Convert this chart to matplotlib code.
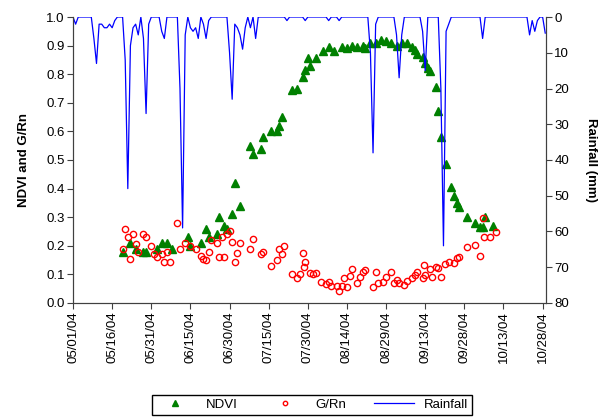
import numpy as np
import matplotlib.pyplot as plt

plt.rcParams["font.family"] = ["Liberation Sans", "DejaVu Sans"]
plt.rcParams["font.size"] = 9.5

# Days counted from 05/01/04
tick_days = [0, 15, 30, 45, 60, 75, 90, 105, 120, 135, 150, 165, 180]
tick_labels = ["05/01/04", "05/16/04", "05/31/04", "06/15/04", "06/30/04",
               "07/15/04", "07/30/04", "08/14/04", "08/29/04", "09/13/04",
               "09/28/04", "10/13/04", "10/28/04"]

ndvi_day = [19, 22, 24, 27, 28, 32, 34, 36, 38, 44, 45, 49, 51, 52, 55, 56,
            58, 59, 61, 62, 64, 68, 69, 72, 73, 76, 78, 79, 80, 84, 86, 88,
            89, 90, 91, 93, 96, 98, 100, 103, 105, 107, 109, 111, 112, 114,
            116, 118, 120, 122, 124, 126, 128, 130, 131, 132, 134, 135, 136,
            137, 139, 140, 141, 143, 145, 146, 147, 148, 151, 154, 156, 157,
            158, 161]
ndvi_val = [0.18, 0.21, 0.19, 0.18, 0.18, 0.19, 0.21, 0.21, 0.19, 0.23, 0.20,
            0.21, 0.26, 0.23, 0.24, 0.30, 0.27, 0.26, 0.31, 0.42, 0.34, 0.55,
            0.52, 0.54, 0.58, 0.60, 0.60, 0.62, 0.65, 0.745, 0.75, 0.79, 0.815,
            0.855, 0.83, 0.855, 0.88, 0.895, 0.88, 0.895, 0.89, 0.90, 0.895,
            0.90, 0.89, 0.91, 0.91, 0.92, 0.915, 0.91, 0.90, 0.91, 0.91, 0.895,
            0.885, 0.87, 0.86, 0.84, 0.82, 0.81, 0.755, 0.67, 0.58, 0.486,
            0.405, 0.375, 0.35, 0.335, 0.30, 0.28, 0.265, 0.265, 0.30, 0.27]

grn_day = [19, 20, 21, 22, 23, 24, 25, 27, 28, 30, 31, 32, 34, 35, 36, 37,
           40, 41, 43, 45, 47, 49, 50, 51, 52, 53, 55, 56, 57, 58, 59, 60,
           61, 62, 63, 64, 68, 69, 72, 73, 76, 78, 79, 80, 81, 84, 86, 87,
           88, 88.5, 89, 91, 92, 93, 95, 97, 98, 99, 101, 102, 103, 104, 105,
           106, 107, 109, 110, 111, 112, 115, 116, 117, 119, 120, 122, 123,
           124, 125, 127, 128, 130, 131, 132, 134, 134.5, 135, 137, 137.5,
           139, 140, 141, 142.5, 144, 146, 147, 148, 151, 154, 156, 157,
           157.5, 160, 162]
grn_val = [0.19, 0.26, 0.23, 0.155, 0.24, 0.205, 0.18, 0.24, 0.23, 0.20, 0.17,
           0.16, 0.17, 0.145, 0.18, 0.145, 0.28, 0.19, 0.21, 0.20, 0.19, 0.165,
           0.155, 0.15, 0.18, 0.22, 0.21, 0.16, 0.23, 0.16, 0.24, 0.25, 0.215,
           0.145, 0.175, 0.21, 0.19, 0.225, 0.17, 0.18, 0.13, 0.15, 0.19, 0.17,
           0.20, 0.10, 0.087, 0.10, 0.175, 0.127, 0.145, 0.105, 0.10, 0.105,
           0.073, 0.066, 0.073, 0.06, 0.06, 0.042, 0.06, 0.087, 0.056, 0.094,
           0.12, 0.07, 0.09, 0.11, 0.115, 0.056, 0.108, 0.07, 0.073, 0.091,
           0.108, 0.07, 0.08, 0.07, 0.063, 0.077, 0.087, 0.098, 0.108, 0.087,
           0.133, 0.098, 0.119, 0.091, 0.126, 0.122, 0.091, 0.136, 0.143,
           0.14, 0.157, 0.161, 0.196, 0.203, 0.164, 0.297, 0.231, 0.231, 0.248]

# Daily rainfall (mm); days not listed had no rain
rain_day = [1, 8, 9, 10, 11, 12, 13, 14, 15, 16, 20, 21, 22, 23, 24, 25, 27,
            28, 29, 34, 35, 41, 42, 43, 45, 46, 47, 48, 50, 51, 52, 60, 61,
            62, 63, 64, 65, 66, 68, 70, 82, 89, 98, 102, 114, 115, 116, 124,
            125, 126, 134, 135, 141, 142, 143, 144, 157, 175, 176, 177, 178,
            181]
rain_mm = [2, 6, 13, 2, 2, 3, 3, 2, 3, 1, 12, 48, 8, 3, 2, 5, 6, 27, 2, 4, 6,
           20, 59, 5, 3, 4, 3, 6, 2, 6, 1, 10, 23, 2, 3, 5, 9, 3, 3, 6, 1, 1,
           1, 1, 10, 38, 2, 5, 17, 5, 4, 15, 20, 64, 4, 2, 6, 5, 1, 4, 1, 4.5]

days = np.arange(0, 182)
rain = np.zeros(len(days))
rain[rain_day] = rain_mm

fig = plt.figure(figsize=(6.06, 4.2), dpi=100)
ax = fig.add_axes([0.1205, 0.2786, 0.7805, 0.6809])

axis_color = "#404040"

ax.plot(ndvi_day, ndvi_val, linestyle="none", marker="^", markersize=6,
        color="#008000", label="NDVI", zorder=3)
ax.plot(grn_day, grn_val, linestyle="none", marker="o", markersize=4.5,
        markerfacecolor="none", markeredgecolor="red", markeredgewidth=1,
        label="G/Rn", zorder=3)

ax.set_xlim(0, 181.3)
ax.set_ylim(0, 1.0)
ax.set_yticks(np.arange(0, 1.01, 0.1))
ax.set_yticklabels([f"{v:.1f}" for v in np.arange(0, 1.01, 0.1)])
ax.set_xticks(tick_days)
ax.set_xticklabels(tick_labels, rotation=90)
ax.set_ylabel("NDVI and G/Rn", fontweight="bold", labelpad=12)

ax2 = ax.twinx()
ax2.plot(days, rain, color="blue", linewidth=0.9, label="Rainfall")
ax2.set_ylim(80, 0)
ax2.set_yticks(range(0, 81, 10))
ax2.set_ylabel("Rainfall (mm)", fontweight="bold", rotation=-90, labelpad=20)

for a in (ax, ax2):
    a.spines["top"].set_visible(False)
    for s in ("left", "right", "bottom"):
        a.spines[s].set_color(axis_color)
    a.tick_params(direction="out", length=4, color=axis_color, pad=2)

fig.legend(loc="center", bbox_to_anchor=(0.515, 0.036), ncol=3,
           frameon=True, fancybox=False, edgecolor="black", framealpha=1,
           handlelength=3, columnspacing=2.1, borderpad=0.3,
           markerscale=0.7)

fig.savefig("out.png", dpi=100)
